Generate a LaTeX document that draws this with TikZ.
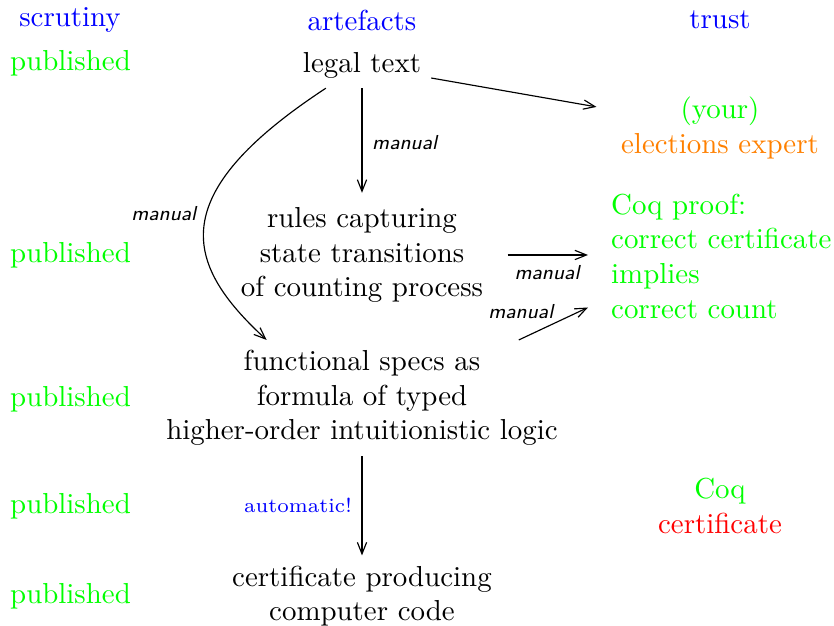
\documentclass[tikz,border=0pt]{standalone}
\usepackage{tikz}
\usetikzlibrary{positioning, arrows.meta}
\usepackage{xcolor}

\begin{document}
\begin{tikzpicture}[
      x=0.346pt, y=-0.346pt,
      every node/.style={inner sep=3.33pt},
      head/.style={text=blue},
      pub/.style={text=green, anchor=west},
      artefact/.style={align=center},
      trust/.style={align=center},
      lbl/.style={font=\scriptsize\sffamily\itshape},
      arr/.style={draw, -{Straight Barb[length=4pt, width=3.2pt]}},
   ]
   \useasboundingbox (0,0) rectangle (834,626);

   % column heads
   \node[head] (hscrut) at (70,20) {scrutiny};
   \node[head] (hart) at (362,20) {artefacts};
   \node[head] (htrust) at (720,20) {trust};

   % scrutiny
   \node[pub] (pub1) at (0,63) {published};
   \node[pub] (pub2) at (0,255) {published};
   \node[pub] (pub3) at (0,399) {published};
   \node[pub] (pub4) at (0,506) {published};
   \node[pub] (pub5) at (0,596) {published};

   % artefacts
   \node (legal) at (362,65) {legal text};
   \node[artefact] (rules) at (362,255) {rules capturing\\state transitions\\of counting process};
   \node[artefact] (func) at (362,398) {functional specs as\\formula of typed\\higher-order intuitionistic logic};
   \node[artefact] (code) at (362,596) {certificate producing\\computer code};

   % trust
   \node[trust] (expert) at (720,128) {\textcolor{green}{(your)}\\\textcolor{orange}{elections expert}};
   \node[align=left, anchor=west, text=green] (proof) at (601,256) {Coq proof:\\correct certificate\\implies\\correct count};
   \node[trust] (cert) at (720,506) {\textcolor{green}{Coq}\\\textcolor{red}{certificate}};

   % arrows
   \draw[arr, shorten >=1.5pt] (legal) -- node[lbl, right] {manual} (rules);
   \draw[arr] ([yshift=-4.5pt]legal.east) -- ([shift={(-5pt,7.3pt)}]expert.west);
   \draw[arr] ([xshift=-12.5pt]legal.south) .. controls (163,195) and (184,264) ..
      node[lbl, pos=0.45, left] {manual} ([xshift=-33pt]func.north);
   \draw[arr, shorten <=5pt, shorten >=4.5pt] (rules.east) -- node[lbl, below] {manual} (rules.east -| proof.west);
   \draw[arr] ([xshift=-17pt]func.north east) -- node[lbl, pos=0.55, anchor=south east, inner sep=1pt] {manual} ([shift={(-4.5pt,7.3pt)}]proof.south west);
   \draw[arr] (func) -- node[left, font=\scriptsize, text=blue] {automatic!} (code);
\end{tikzpicture}
\end{document}
